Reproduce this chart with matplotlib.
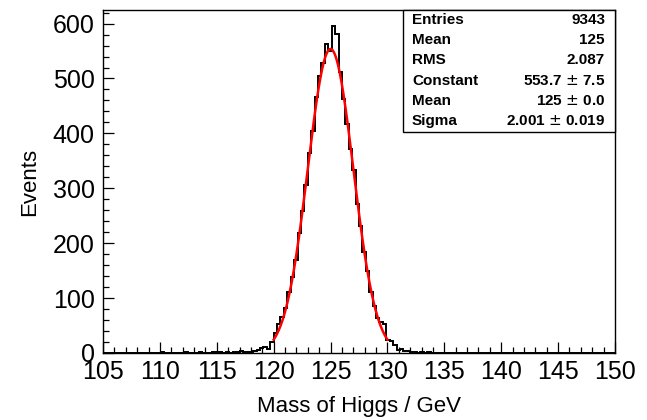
import numpy as np
import matplotlib
matplotlib.use('Agg')
import matplotlib.pyplot as plt
from matplotlib.patches import Rectangle
from matplotlib.ticker import MultipleLocator

plt.rcParams['font.family'] = ['Liberation Sans', 'DejaVu Sans']

# Histogram definition (ROOT TH1: 150 bins from 105 to 150 GeV)
x_min, x_max, n_bins = 105.0, 150.0, 150
counts = [
    0, 0, 0, 0, 0, 0, 0, 0, 0, 0,
    0, 0, 0, 0, 0, 0, 0, 1, 0, 0,
    0, 0, 0, 0, 1, 0, 0, 0, 1, 0,
    0, 0, 1, 2, 2, 0, 1, 0, 1, 2,
    4, 1, 2, 2, 3, 5, 9, 11, 7, 20,
    36, 52, 66, 82, 112, 138, 170, 218, 258, 306,
    364, 404, 466, 505, 528, 562, 550, 595, 581, 512,
    462, 418, 372, 333, 272, 232, 184, 150, 112, 86,
    64, 56, 52, 24, 22, 14, 5, 7, 4, 3,
    2, 1, 0, 1, 0, 1, 0, 0, 0, 0,
    0, 0, 0, 0, 0, 0, 0, 0, 0, 0,
    0, 0, 0, 0, 0, 0, 0, 0, 0, 0,
    0, 0, 0, 0, 0, 0, 0, 0, 0, 0,
    0, 0, 0, 0, 0, 0, 0, 0, 0, 0,
    0, 0, 0, 0, 0, 0, 0, 0, 0, 0,
]

# Gaussian fit parameters (from stats box)
fit_const, fit_mean, fit_sigma = 553.7, 125.0, 2.001
fit_range = (120.0, 130.0)

stat_labels = ["Entries", "Mean", "RMS", "Constant", "Mean", "Sigma"]
stat_values = ["9343", "125", "2.087", "553.7 $\\pm$ 7.5", "125 $\\pm$ 0.0", "2.001 $\\pm$ 0.019"]

x_ticks = [105, 110, 115, 120, 125, 130, 135, 140, 145, 150]
y_ticks = [0, 100, 200, 300, 400, 500, 600]

W, H = 647, 420
fig = plt.figure(figsize=(W / 100, H / 100), dpi=100)
ax = fig.add_axes([103 / W, 67 / H, 512 / W, 343 / H])

edges = np.linspace(x_min, x_max, n_bins + 1)
ax.stairs(counts, edges, color='black', lw=1.4, baseline=0)

xf = np.linspace(fit_range[0], fit_range[1], 400)
yf = fit_const * np.exp(-0.5 * ((xf - fit_mean) / fit_sigma) ** 2)
ax.plot(xf, yf, color='red', lw=1.8)

ax.set_xlim(x_min, x_max)
ax.set_ylim(0, 1.05 * max(counts))
ax.set_xticks(x_ticks)
ax.set_yticks(y_ticks)
ax.xaxis.set_minor_locator(MultipleLocator(1))
ax.yaxis.set_minor_locator(MultipleLocator(20))
ax.tick_params(axis='both', which='major', direction='in', length=8, width=0.9,
               labelsize=18, top=False, right=False)
ax.tick_params(axis='both', which='minor', direction='in', length=4, width=0.9,
               top=False, right=False)
ax.tick_params(axis='x', pad=5)
ax.tick_params(axis='y', pad=6)
for s in ax.spines.values():
    s.set_linewidth(1.0)

ax.set_xlabel("Mass of Higgs / GeV", fontsize=16, labelpad=9)
ax.set_ylabel("Events", fontsize=16, labelpad=9)

# Stats box
bx0, bx1, by0, by1 = 403 / W, 615 / W, 1 - 132 / H, 1 - 10 / H
fig.patches.append(Rectangle((bx0, by0), bx1 - bx0, by1 - by0, transform=fig.transFigure,
                             facecolor='white', edgecolor='black', lw=1.0, zorder=5))
row_y = [20, 40, 60, 81, 101, 121]
for lab, val, yy in zip(stat_labels, stat_values, row_y):
    fig.text(412 / W, 1 - yy / H, lab, fontsize=11, fontweight='bold',
             ha='left', va='center', zorder=6)
    fig.text(605 / W, 1 - yy / H, val, fontsize=11, fontweight='bold',
             ha='right', va='center', zorder=6)

fig.savefig('out.png', dpi=100)
